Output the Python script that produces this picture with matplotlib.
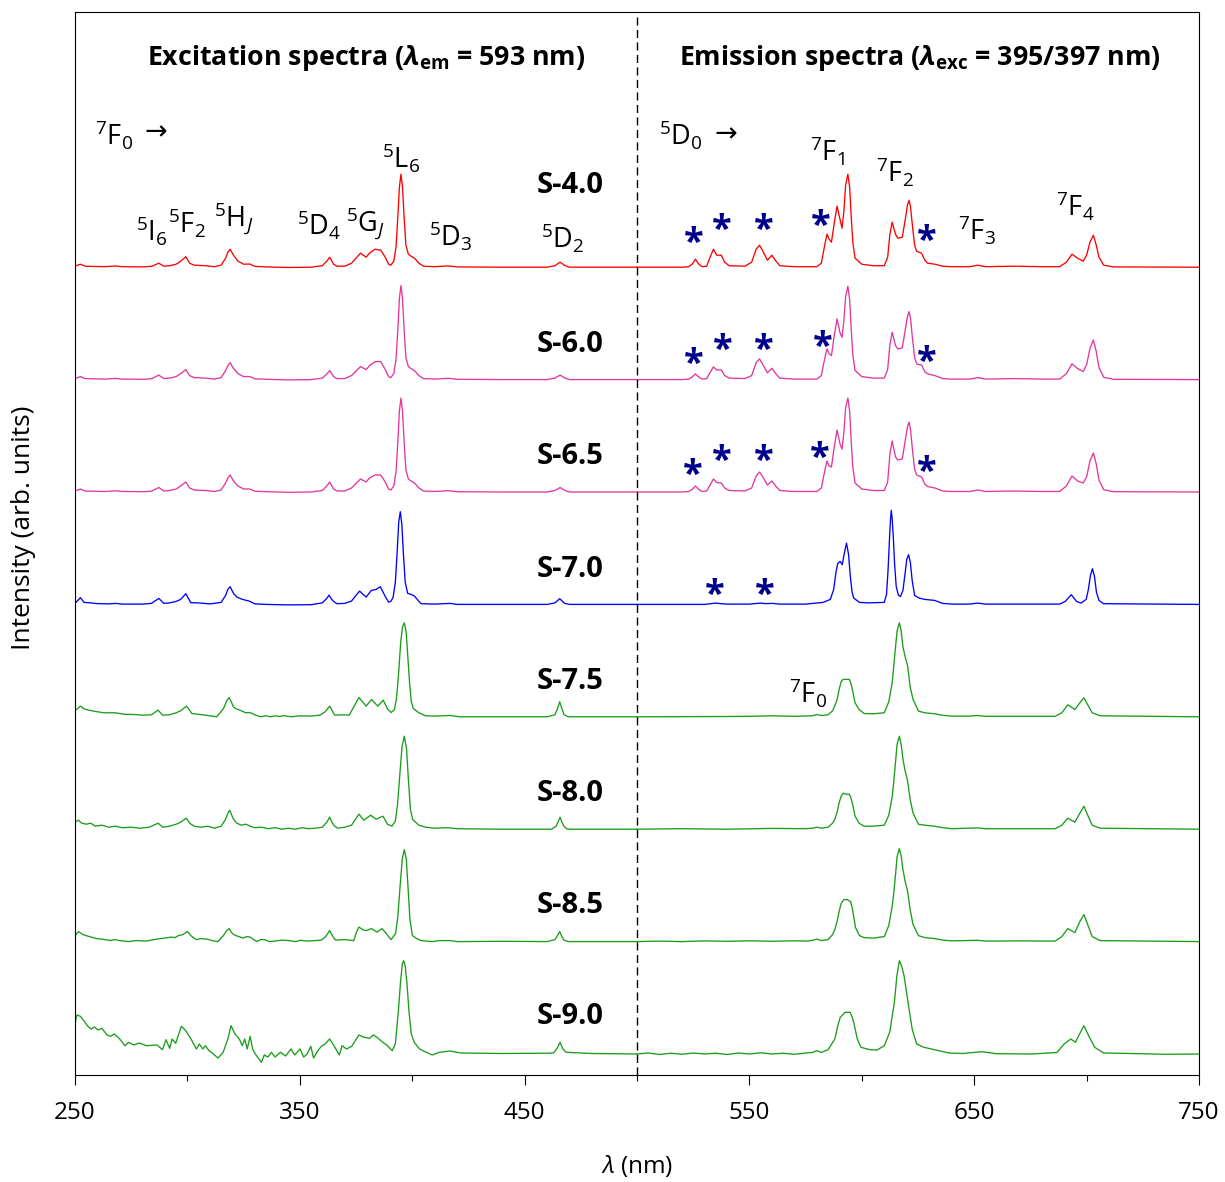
import numpy as np
import matplotlib
matplotlib.use("Agg")
import matplotlib.pyplot as plt

plt.rcParams['font.family'] = ['Open Sans', 'DejaVu Sans']
plt.rcParams['mathtext.fontset'] = 'custom'
plt.rcParams['mathtext.rm'] = 'Open Sans'
plt.rcParams['mathtext.it'] = 'Open Sans:italic'
plt.rcParams['mathtext.bf'] = 'Open Sans:bold'
try:
    plt.rcParams['mathtext.bfit'] = 'Open Sans:bold:italic'
    BFIT = r'\mathbfit'
except KeyError:
    BFIT = r'\mathbf'

# ---------------- data (wavelength nm, intensity arb. units) ----------------
samples = ['S-4.0', 'S-6.0', 'S-6.5', 'S-7.0', 'S-7.5', 'S-8.0', 'S-8.5', 'S-9.0']
colors = ['#ff0000', '#e2379c', '#e2379c', '#0000ff', '#1b9c1b', '#1b9c1b', '#1b9c1b', '#1b9c1b']
offsets = [807.8, 695.4, 583.0, 470.6, 358.2, 245.8, 133.4, 21.0]
label_dy = [82, 35, 35, 35, 35, 36, 36, 37]

exc_40 = [(250,1),(252.4,3),(254.5,1),(258,0.8),(263,0.5),(268,1.2),(271,0.5),(280,0.3),(284,0.8),(287.3,4),(289.5,1),(292,1.5),(295,3),(297,6),(299.3,10.5),(301,4),(303,2),(308,1.5),(312,0.5),(315,2),(317,9),(318,15),(319,18),(320.5,12),(322.5,6),(325,3),(327.8,3.2),(330,0.8),(335,0.3),(345,-0.3),(355,0),(360,1.5),(362,6),(363.3,10),(364.3,6),(365,3),(366.5,1),(370,1),(373,4),(375,9),(377,14),(379.5,10),(381,14),(383.5,18),(386,17),(388,10),(389.5,3),(390.5,2),(391.8,6),(392.8,20),(393.6,50),(394.3,80),(395,93),(395.7,80),(396.4,50),(397.2,22),(398.3,13),(399.5,11),(401,9),(403,4),(405,1),(410,0.5),(416,1.3),(420,0.3),(440,0),(460,0),(463.5,1.5),(465.8,5),(468,1.5),(470,0),(500,0)]
em_40 = [(500,0),(520,0),(523,0.5),(524.5,3),(526,8),(527.5,3),(529,0.5),(531,1),(532.5,10),(534,18),(535.5,12),(537.5,12),(539,5),(541,1.5),(548,1),(551,5),(553,18),(554.5,22),(556,16),(558,7),(560,12),(561.5,7),(563.5,1.5),(570,0.5),(580,0.5),(582,4),(583.5,22),(584.5,33),(585.5,28),(586.5,25),(587.8,45),(589,61),(590.3,48),(591.2,39),(592,55),(592.8,82),(593.8,93),(594.6,80),(595.3,50),(596,25),(597,9),(600,3),(605,1.5),(610,1.5),(611.5,10),(612.5,33),(613.5,45),(615,33),(616,29),(618,30),(619.5,50),(620.3,62),(621,67),(621.7,60),(622.5,42),(623.5,22),(624.4,16),(625.5,15),(626.6,14),(628,7),(629.3,4),(632.5,3),(636,1),(640,0.5),(648,0.5),(651.6,2),(655,0.5),(668,1),(680,0.5),(688,0.5),(691,5),(693.5,13),(696,9),(698.5,6),(700,12),(701.5,25),(703,32),(704.3,22),(705.5,10),(707.6,2),(712,0.3),(750,0)]

exc_60 = [(250,1),(252.4,3),(254.5,1),(258,0.8),(263,0.5),(268,1.2),(271,0.5),(280,0.3),(284,0.8),(287.3,4.5),(289.5,1),(292,1.5),(295,3),(297,6),(299.3,10),(301,4),(303,2),(308,1.5),(312,0.5),(315,2),(317,9),(318,14),(319,17),(320.5,11),(322.5,6),(325,3),(327.8,3),(330,0.8),(335,0.3),(345,-0.3),(355,0),(360,1.5),(362,5.5),(363.3,9),(364.3,5.5),(365,3),(366.5,1),(370,1),(373,4),(375,8.5),(377,13),(379.5,10),(381,14),(383.5,18),(386,18),(388,10),(389.5,3),(390.5,2),(391.8,6),(392.8,20),(393.6,50),(394.3,81),(395,94),(395.7,81),(396.4,50),(397.2,22),(398.3,13),(399.5,11),(401,9),(403,4),(405,1),(410,0.5),(416,1.3),(420,0.3),(440,0),(460,0),(463.5,1.5),(465.8,4.5),(468,1.5),(470,0),(500,0)]
em_60 = [(500,0),(520,0),(523,0.5),(524.5,2.5),(526,5.7),(527.5,2.5),(529,0.5),(531,1),(532.5,7),(534,12.7),(535.5,9.5),(537.5,9.7),(539,4),(541,1.5),(548,1),(551,4),(553,17),(554.5,20.7),(556,15),(558,6.7),(560,11.3),(561.5,6.5),(563.5,1.5),(570,0.5),(580,0.5),(582,4),(583.5,21),(584.5,30.7),(585.5,26),(586.5,24),(587.8,45),(589,60.7),(590.3,47),(591.2,42.3),(592,58),(592.8,83),(593.8,93.3),(594.6,80),(595.3,50),(596,25),(597,9),(600,3),(605,1.5),(610,1.5),(611.5,10),(612.5,35),(613.5,47.3),(615,34),(616,30.7),(618,31.7),(619.5,52),(620.3,63),(621,68),(621.7,61),(622.5,42),(623.5,22),(624.4,15.7),(625.5,15),(626.6,14.7),(628,8),(629.3,5.7),(632.5,4),(636,1),(640,0.5),(648,0.5),(651.6,2),(655,0.5),(668,1),(680,0.5),(688,0.5),(691,6),(693.5,15.7),(696,11),(698.5,8),(700,15),(701.5,31),(703,39.7),(704.3,28),(705.5,12),(707.6,2.3),(712,0.3),(750,0)]

exc_65 = [(250,1),(252.4,3),(254.5,1),(258,0.8),(263,0.5),(268,1.2),(271,0.5),(280,0.3),(284,0.8),(287.3,4.5),(289.5,1),(292,1.5),(295,3),(297,6),(299.3,10),(301,4),(303,2),(308,1.5),(312,0.5),(315,2),(317,9),(318,14),(319,17),(320.5,11),(322.5,6),(325,3),(327.8,3),(330,0.8),(335,0.3),(345,-0.3),(355,0),(360,1.5),(362,6),(363.3,10),(364.3,6),(365,3),(366.5,1),(370,1),(373,4),(375,8.5),(377,13),(379.5,10),(381,14),(383.5,17),(386,17),(388,10),(389.5,3),(390.5,2),(391.8,6),(392.8,20),(393.6,50),(394.3,81),(395,94),(395.7,81),(396.4,50),(397.2,22),(398.3,13),(399.5,11),(401,9),(403,4),(405,1),(410,0.5),(416,1.3),(420,0.3),(440,0),(460,0),(463.5,1.5),(465.8,4.5),(468,1.5),(470,0),(500,0)]
em_65 = [(500,0),(520,0),(523,0.5),(524.5,2.5),(526,6),(527.5,2.5),(529,0.5),(531,1),(532.5,7),(534,13),(535.5,9.5),(537.5,9),(539,4),(541,1.5),(548,1),(551,4),(553,16),(554.5,20),(556,15),(558,7),(560,11),(561.5,6.5),(563.5,1.5),(570,0.5),(580,0.5),(582,4),(583.5,21),(584.5,31),(585.5,26),(586.5,25),(587.8,46),(589,62),(590.3,48),(591.2,43),(592,59),(592.8,84),(593.8,94),(594.6,81),(595.3,50),(596,25),(597,9),(600,3),(605,1.5),(610,1.5),(611.5,10),(612.5,38),(613.5,51),(615,35),(616,32),(618,33),(619.5,54),(620.3,65),(621,70),(621.7,62),(622.5,43),(623.5,23),(624.4,17),(625.5,16),(626.6,15),(628,8),(629.3,5.5),(632.5,4),(636,1),(640,0.5),(648,0.5),(651.6,2),(655,0.5),(668,1),(680,0.5),(688,0.5),(691,6),(693.5,16),(696,11),(698.5,9),(700,15),(701.5,31),(703,39),(704.3,28),(705.5,12),(707.6,2.3),(712,0.3),(750,0)]

exc_70 = [(250,1),(252.4,6.7),(254,2),(256,1.7),(260,0.8),(265,0.5),(268,1),(271,0.3),(280,0.3),(284,1),(287.3,6),(289.5,1),(292,1.5),(295,3),(297,5),(299.3,10.7),(301.5,1.7),(305,1.5),(310,0.5),(315,2),(317,9),(318,15),(319,17.7),(320.5,11),(322,7.3),(324.5,5),(327.5,3.3),(330,0.5),(335,0),(345,-0.5),(355,-0.3),(360,1.5),(362,6),(363,9.3),(364.2,5),(365,3),(366.5,0.7),(370,1),(373,3.3),(375,9),(376.6,13.3),(379.5,7.3),(381.8,14),(384,15),(385.8,17.7),(388,8),(389.5,2.3),(390.5,3),(391.5,7),(392.5,22),(393.3,52),(394,82),(394.7,92.7),(395.4,80),(396.1,50),(396.9,22),(398,11),(399.5,10),(401,8.3),(403,3),(404,0.7),(410,0.3),(416.8,1),(420,0),(440,0),(460,0),(463.5,1.5),(465.6,5.7),(467.8,1),(470,0),(500,0)]
em_70 = [(500,0),(530,0),(532,0.5),(534.7,1.3),(537,0.8),(540,0.3),(550,0.3),(555,1.3),(557,0.8),(560.5,1),(563,0.3),(575,0.3),(582.8,2),(586,5),(587.5,15),(588.5,32),(589.3,41),(590.4,43),(591.3,39.7),(592.3,52),(593.2,61.3),(594.1,50),(594.9,28),(595.7,12),(596.4,6.3),(599,2),(603,1.5),(610,2),(611,10),(611.7,35),(612.3,65),(612.8,86),(613.1,94),(613.5,86),(614,68),(614.6,40),(615.3,18),(616.3,9),(617.2,8),(618.3,14),(619.2,30),(620,45),(620.8,49.7),(621.6,42),(622.4,24),(623.5,9),(625.5,6.3),(628,5),(632.4,4),(636,1),(640,0.3),(648,0.3),(651.6,1.3),(655,0.3),(688,0.3),(690.5,3),(693.2,9.7),(695.5,3),(697.5,1.3),(699.8,5),(700.8,15),(701.7,29),(702.6,35.7),(703.5,28),(704.4,12),(705.5,4),(707.5,0.7),(750,0)]

exc_75 = [(250,6),(252.4,10.7),(254,8),(256,6.7),(260,5),(263,4),(268,4),(272,2.5),(276,2.3),(280,1.7),(284,2),(286.9,6.7),(289,1.7),(292,2),(295,4),(297,6),(299.6,10.7),(302,3.3),(305,2.5),(310,1),(313,0),(316,8),(317.5,16),(318.6,19.3),(320.5,10),(321.5,8.3),(324,6),(326,4),(327.8,4.3),(330,2),(332.5,0),(335,1),(337,0),(339,1),(341,0.3),(343,1.2),(346,0),(350,1),(355,0.7),(359,1.7),(361.3,5),(363.3,10.7),(365.5,1.7),(369,2),(372,1.7),(374.5,12),(376.3,19.3),(379.5,10.7),(381.9,17.3),(384.7,10.7),(387.1,16.7),(389,8),(390.6,4.3),(392,7),(393,18),(394,45),(394.9,75),(395.7,90),(396.5,94),(397.3,85),(398,62),(398.8,35),(399.6,15),(400.5,8.3),(403,4),(406,1),(410,0.7),(416.8,1.3),(421,0),(440,0),(460,0),(463.5,2),(464.6,8),(465.6,15),(466.6,8),(467.6,2),(469.5,0),(500,0)]
em_75 = [(500,0),(540,0.3),(550,0.5),(560,1),(570,0.5),(578,1),(580,2.3),(582,1.3),(585,2),(587,6),(588,11),(589,17.3),(590,28),(590.8,35),(591.6,37.3),(593,37.5),(594.5,37.3),(595.2,33),(595.8,27.3),(597,14),(598.8,7.3),(601,3.3),(605,3),(610,4),(612,15),(613.5,34),(614.2,50),(614.8,65),(615.7,86),(616.7,94),(617.5,86),(618.3,70),(619.3,60),(620.4,50.7),(621.5,30),(622.8,17.3),(625.2,5.7),(628,4),(632.4,3),(636,1.5),(640,0.7),(648,0.7),(651.6,1.3),(655,0.5),(686,0.5),(689,4),(691.6,12),(694.8,7.3),(697,14),(698.8,19),(700.5,12),(702.5,4),(706,1),(750,0)]

exc_80 = [(250,7),(251.5,9),(253,6),(255,5),(257,6),(259,3),(262,4),(265,2),(268,3),(271,1.5),(275,2),(279,1),(283,2),(285,4),(287,6),(289,2),(292,3),(295,5),(297,7),(299.5,11),(301,6),(303,3),(306,2),(309,3),(312,1),(315,3),(317,10),(318,16),(318.8,19),(320.5,10),(322,6),(324,4),(326,5),(328,3),(330,1.5),(333,2),(336,0.5),(339,1.5),(342,0),(345,1),(348,0),(351,1.5),(354,0.5),(357,1),(360,2),(362,7),(363.3,12),(364.5,6),(365.5,3),(367,1),(370,2),(373,4),(374.8,10),(376.3,15),(378.5,9),(381.5,14),(384,10),(387,13),(389,5),(391,3),(392.5,8),(393.5,25),(394.5,55),(395.5,83),(396.5,93),(397.5,80),(398.3,50),(399.2,20),(400.2,10),(401,8),(403,4),(406,2),(410,1),(416,1.5),(420,0.5),(440,0),(462,0),(464,3),(465,8),(465.8,12),(466.6,7),(467.5,3),(469,0),(500,0)]
em_80 = [(500,0),(520,0.5),(540,0),(560,0.8),(575,0.5),(578,1),(580,2),(582,1),(585,2),(587,6),(588,10),(589,17),(590,27),(590.8,33),(591.8,36),(593,35),(594.5,35),(595.2,31),(595.8,26),(597,13),(598.8,6),(601,3),(605,3),(610,4),(612,14),(613.5,32),(614.2,47),(614.8,62),(615.7,85),(616.7,93),(617.5,85),(618.3,70),(619.3,58),(620.4,48),(621.5,30),(622.8,16),(625.2,5),(628,4),(632.4,3),(636,1.5),(640,0.5),(651.6,1.3),(655,0.5),(686,0.5),(689,4),(691.6,11),(694.8,7),(697,16),(698.8,23),(700.5,14),(702.5,4),(706,1),(750,0)]

exc_85 = [(250,6),(251.6,10),(253.5,7),(256.4,5),(258,4),(259.5,3),(262,2.5),(265.9,1),(267.5,2),(270,1),(273.8,0),(277,1),(281.8,0.5),(285,2),(288,3),(290,3.5),(292.9,4.5),(294.5,4),(296,6),(298,7),(300,10),(302,5),(304,2),(306,3),(308.8,2.5),(311,1),(313.6,0),(316,6),(317.5,11),(318.6,13),(320,8),(321.5,6),(323,5),(324.7,3.5),(326.5,5),(327.9,4.5),(329.5,2),(331,0),(332.5,2),(334.2,2),(336.5,0),(339,0.5),(342,1.5),(345.3,1),(348,0),(350.5,1.3),(353.3,0.5),(356.5,1),(359.6,1.5),(361.5,5),(363.3,11),(365,4),(366,1.5),(370,2),(374,1),(375.3,10),(376.3,14.5),(378,12),(379.5,11),(381.9,13),(384.3,9.5),(386.6,13),(388.5,8),(390.6,2),(392.6,8),(393.6,25),(394.6,55),(395.6,83),(396.5,92),(397.4,82),(398.2,52),(399,22),(400.1,6),(402,3),(404,1),(408.9,0),(412,1),(416.8,1),(420,0),(440,0.3),(460,0),(463.5,2),(464.6,6),(465.6,10),(466.6,5),(467.5,1.5),(469.5,0),(500,0)]
em_85 = [(500,0),(510,0.5),(520,0),(530,0.7),(540,0.3),(550,0.8),(560,0.3),(570,0.8),(576,0.5),(578.5,1.5),(580,2.5),(582,1),(585,2),(587,7),(588,12),(589,20),(590,31),(590.8,38),(592,42),(593.5,42),(595,40),(595.6,35),(596.2,28),(597.2,14),(599,6),(601,4),(605,3.5),(610,5),(612,16),(613.5,35),(614.2,48),(614.8,62),(615.7,85),(616.7,93),(617.5,86),(618.3,72),(619.3,60),(620.4,50),(621.5,32),(622.8,17),(625.2,6),(628,4),(632.4,3),(636,1.5),(640,0.7),(651.6,1.3),(655,0.5),(670,0.7),(686,0.5),(689,5),(691.6,13),(694.8,9),(697,20),(698.8,27),(700.5,17),(702.5,5),(706,1),(750,0)]

exc_90 = [(250,30),(250.8,39),(252.4,37.7),(254,33),(255.6,28),(257.2,25),(258.7,27),(260.3,24),(261.9,25.7),(264.3,19),(265.9,17.7),(267.5,20),(269.9,15),(272.2,8.3),(273.8,11.7),(276.2,9),(278.6,11),(281.8,8.3),(286.5,9),(288.9,4.3),(290.5,14.3),(292.1,5.7),(293.2,15),(294.8,10.7),(297.3,27.7),(299.3,23.3),(301.6,15),(304,5),(305.3,10),(306.9,5),(308,8.3),(309.6,3.3),(311.2,0.7),(313.6,-4),(315.9,1.7),(318,15),(319.4,28.3),(321.2,20),(323.1,15),(324.4,8.3),(325.5,15),(326.6,5),(327.9,17.7),(329,5),(330.2,0),(331.3,-3.3),(332.9,-8.3),(334.2,-1),(335.8,-3),(337.4,1.7),(339,-3),(341.4,1.7),(343.7,-2),(346.1,5),(347.7,-1),(350.1,5),(351.7,-3),(353.3,0),(354.9,7.7),(356.1,-4),(358,3.3),(359.6,7.7),(361.2,10),(363.3,15),(365.2,8.3),(367.6,-1),(368.8,8.3),(370.8,5),(373.1,7.7),(376.3,19),(378.7,16.7),(381.1,15.7),(382.7,19),(384.3,16.7),(386.6,12.3),(389,8.3),(391.1,3.3),(392.5,10),(393.8,41.7),(394.8,72),(395.6,90),(396.2,93.3),(396.9,88),(397.7,70),(398.6,41.7),(399.6,20),(400.9,11.7),(403.3,5),(405.7,2.3),(408.9,-1),(412,1.7),(416.8,3),(421.6,1),(440,0.5),(460,0.8),(462.9,1),(464.5,6),(465.8,11.7),(467,5),(468.5,1.7),(480,0.5),(500,0)]
em_90 = [(500,0),(505,1),(510,-0.5),(515,0.8),(520,-0.3),(525,1),(530,0),(535,0.8),(540,-0.5),(545,1),(550,0),(555,1.2),(560,0),(565,0.8),(570,-0.3),(575,1),(578,1.5),(580,3.3),(582,1.5),(585,4.3),(588,15),(589.3,28),(590.4,36.7),(592.6,41.7),(594.8,41.7),(595.7,37),(596.4,31.7),(598,15),(599.6,6.7),(603.6,4.3),(606.8,4),(610,8.3),(612.4,21.7),(614.5,51.7),(615.6,78),(616.7,93.3),(617.7,88),(618.8,78.3),(620.8,48.3),(622.4,25),(624.4,10),(627.6,6.7),(632.4,4.3),(638.8,1),(645,0.5),(653.2,2.3),(660,0.3),(675.6,0),(686.8,1.5),(690,10),(693,15),(695,11.7),(698.8,28.3),(700.9,18.3),(703.6,6.7),(707.6,1),(720,0.5),(735,-0.3),(750,0)]

exc_list = [exc_40, exc_60, exc_65, exc_70, exc_75, exc_80, exc_85, exc_90]
em_list = [em_40, em_60, em_65, em_70, em_75, em_80, em_85, em_90]

# asterisk marks (wavelength, height above baseline) for first four samples
stars = {
    'S-4.0': [(525.2, 32), (537.8, 45), (556.4, 45), (581.9, 49), (628.9, 34)],
    'S-6.0': [(525.2, 24), (538.0, 38), (556.4, 38), (582.7, 41), (629.0, 26)],
    'S-6.5': [(525.0, 25), (537.8, 39), (556.5, 39), (581.4, 42), (629.0, 28)],
    'S-7.0': [(534.7, 17), (556.7, 17)],
}

# ---------------- figure ----------------
fig = plt.figure(figsize=(12.25, 11.82), dpi=100)
ax = fig.add_axes([75/1225, 1-1075/1182, 1124/1225, 1063/1182])
ax.set_xlim(250, 750)
ax.set_ylim(0, 1063)

for name, col, off, exc, em in zip(samples, colors, offsets, exc_list, em_list):
    e = np.array(exc, dtype=float)
    m = np.array(em, dtype=float)
    ax.plot(e[:, 0], e[:, 1] + off, color=col, lw=0.95, solid_joinstyle='round')
    ax.plot(m[:, 0], m[:, 1] + off, color=col, lw=0.95, solid_joinstyle='round')

for name, off, dy in zip(samples, offsets, label_dy):
    ax.text(470.2, off + dy, name, ha='center', va='center', fontsize=21, fontweight='bold')

for name, pts in stars.items():
    off = offsets[samples.index(name)]
    for wl, h in pts:
        ax.text(wl, off + h - 9, '*', ha='center', va='center', fontsize=26,
                fontweight='bold', color='#00008b')

ax.axvline(500, color='black', lw=1.0, dashes=(5.8, 3.2))

fs = 19.5
ax.text(379.4, 1017, r'Excitation spectra ($' + BFIT + r'{\lambda}_{\mathbf{em}}$ = 593 nm)',
        ha='center', va='center', fontsize=19.3, fontweight='bold')
ax.text(625.9, 1017, r'Emission spectra ($' + BFIT + r'{\lambda}_{\mathbf{exc}}$ = 395/397 nm)',
        ha='center', va='center', fontsize=19.3, fontweight='bold')

trans_labels = [
    (267.3, 940, r'$^{7}$F$_{0}$'),
    (284.3, 844, r'$^{5}$I$_{6}$'),
    (299.8, 852, r'$^{5}$F$_{2}$'),
    (320.7, 857, r'$^{5}$H$_{J}$'),
    (358.5, 850, r'$^{5}$D$_{4}$'),
    (379.4, 852, r'$^{5}$G$_{J}$'),
    (395.0, 917, r'$^{5}$L$_{6}$'),
    (417.3, 839, r'$^{5}$D$_{3}$'),
    (467.1, 837, r'$^{5}$D$_{2}$'),
    (519.6, 940, r'$^{5}$D$_{0}$'),
    (584.5, 924, r'$^{7}$F$_{1}$'),
    (614.8, 903, r'$^{7}$F$_{2}$'),
    (651.2, 845, r'$^{7}$F$_{3}$'),
    (694.8, 869, r'$^{7}$F$_{4}$'),
    (576.1, 382, r'$^{7}$F$_{0}$'),
]
for x, y, s in trans_labels:
    s = s.replace('$_{J}$', r'$_{\mathit{J}}$')
    ax.text(x, y, s, ha='center', va='center', fontsize=fs)
for x, y in [(286.0, 943), (539.4, 941)]:
    ax.text(x, y, '→', ha='center', va='center', fontsize=fs, family='DejaVu Sans')

ax.set_xticks([250, 350, 450, 550, 650, 750])
ax.set_xticks([300, 400, 500, 600, 700], minor=True)
ax.tick_params(axis='x', which='major', direction='out', length=7, width=0.8, labelsize=17.5, pad=12)
ax.tick_params(axis='x', which='minor', direction='out', length=4.5, width=0.8)
ax.set_yticks([])
for sp in ax.spines.values():
    sp.set_linewidth(0.8)

ax.set_xlabel(r'$\mathit{\lambda}$ (nm)', fontsize=17.5, labelpad=20)
ax.set_ylabel('Intensity (arb. units)', fontsize=19)
ax.yaxis.set_label_coords(-0.035, 0.515)

fig.savefig('out.png', dpi=100)
